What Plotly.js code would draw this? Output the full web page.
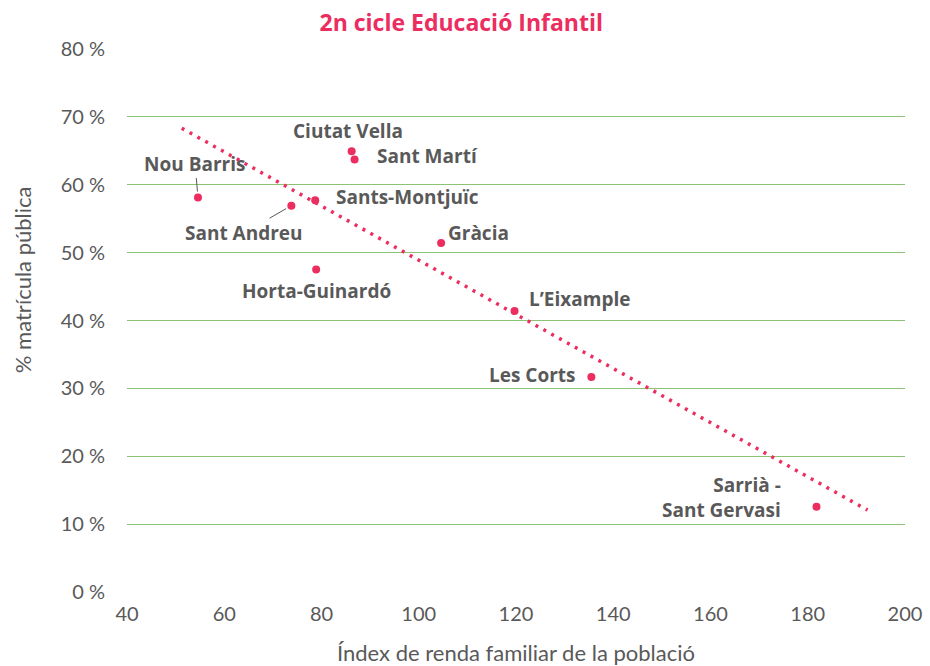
<!DOCTYPE html>
<html>
<head>
<meta charset="utf-8">
<script src="https://cdn.plot.ly/plotly-3.0.1.min.js"></script>
<style>html,body{margin:0;padding:0;background:#fff;}#chart{width:930px;height:666px;}</style>
</head>
<body>
<div id="chart"></div>
<script>
// Districts of Barcelona
const districts = ["Nou Barris","Sant Andreu","Sants-Montjuïc","Horta-Guinardó","Ciutat Vella","Sant Martí","Gràcia","L’Eixample","Les Corts","Sarrià -<br>Sant Gervasi"];
// Índex de renda familiar
const renda = [54.6, 73.8, 78.7, 78.9, 86.2, 86.8, 104.6, 119.7, 135.5, 181.8];
// % matrícula pública
const publica = [58.1, 56.9, 57.7, 47.5, 64.9, 63.7, 51.4, 41.4, 31.7, 12.6];
// Trend line endpoints
const trendX = [51.25, 192.3];
const trendY = [68.3, 12.1];
const yTicks = [0,10,20,30,40,50,60,70,80];
const yTickLabels = ["0 %","10 %","20 %","30 %","40 %","50 %","60 %","70 %","80 %"];
const xTicks = [40,60,80,100,120,140,160,180,200];

const pink = '#EC2D5F';
const gray = '#595959';
const lblFont = {family:'"Open Sans", sans-serif', size:19, color:gray, weight:'bold'};
const tickFont = {family:'Lato, sans-serif', size:20, color:gray};
const titleFont = {family:'Lato, sans-serif', size:22, color:gray};

// label placement per district (styling only)
const place = [
  {arrow:true, ax:-3, ay:-34},
  {arrow:true, ax:-47, ay:27},
  {xanchor:'left', xshift:19, yshift:3},
  {xanchor:'center', yshift:-21},
  {xanchor:'center', xshift:-4, yshift:20},
  {xanchor:'left', xshift:20, yshift:3},
  {xanchor:'left', xshift:5, yshift:10},
  {xanchor:'left', xshift:12, yshift:12},
  {xanchor:'right', xshift:-13, yshift:2},
  {xanchor:'right', xshift:-34, yshift:9, align:'right'}
];

const annotations = districts.map((d,i)=>{
  const p = place[i];
  const a = {x:renda[i], y:publica[i], xref:'x', yref:'y', text:'<b>'+d+'</b>', font:lblFont};
  if (p.arrow) {
    Object.assign(a, {showarrow:true, arrowhead:0, arrowwidth:1, arrowcolor:gray, ax:p.ax, ay:p.ay, standoff:6});
  } else {
    Object.assign(a, {showarrow:false, xanchor:p.xanchor, yanchor:'middle', xshift:p.xshift||0, yshift:p.yshift||0, align:p.align||'center'});
  }
  return a;
});
annotations.push({xref:'paper', yref:'paper', x:0, y:0.574, xshift:-105, xanchor:'center', yanchor:'middle', textangle:-90, showarrow:false, text:'% matrícula pública', font:titleFont});

const traces = [
  {x:trendX, y:trendY, mode:'lines', type:'scatter', line:{color:pink, width:3.5, dash:'3px,6px'}, hoverinfo:'skip'},
  {x:renda, y:publica, mode:'markers', type:'scatter', marker:{color:pink, size:8}}
];

const layout = {
  width:930, height:666,
  margin:{l:127, r:25, t:48, b:73},
  paper_bgcolor:'#fff', plot_bgcolor:'#fff',
  showlegend:false,
  title:{text:'<b>2n cicle Educació Infantil</b>', font:{family:'"Open Sans", sans-serif', size:23, color:pink}, x:0.496, xanchor:'center', y:0.966, yanchor:'middle'},
  xaxis:{range:[40,200], tickvals:xTicks, showgrid:false, zeroline:false, showline:false, ticks:'',
    tickfont:tickFont, ticklabelstandoff:7,
    title:{text:'Índex de renda familiar de la població', font:titleFont, standoff:21}},
  yaxis:{range:[-0.1,80.1], tickvals:yTicks, ticktext:yTickLabels, showgrid:true, gridcolor:'#8CC274', gridwidth:1, zeroline:false, showline:false, ticks:'',
    tickfont:tickFont, ticklabelstandoff:21},
  annotations:annotations
};

Plotly.newPlot('chart', traces, layout, {displayModeBar:false, staticPlot:true});
</script>
</body>
</html>
